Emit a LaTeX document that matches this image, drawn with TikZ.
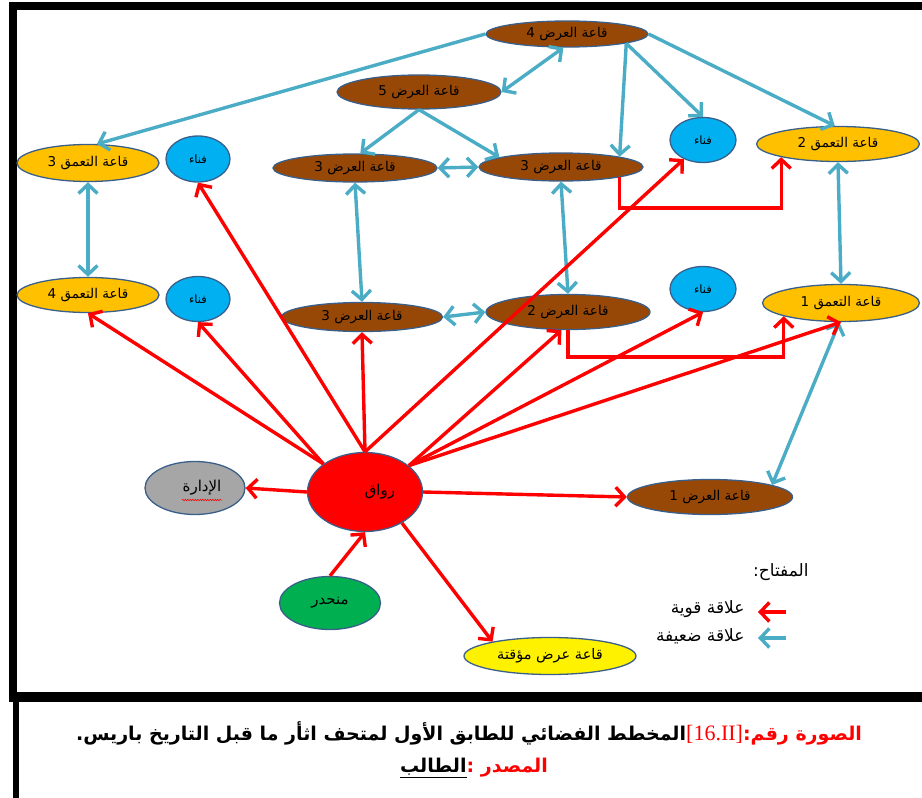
\documentclass[tikz,border=0pt]{standalone}
\usepackage{fontspec}
\usetikzlibrary{shapes.geometric,arrows.meta,decorations.pathmorphing}
\newfontfamily\arabicfont[Script=Arabic]{DejaVu Sans}
\newfontfamily\romanfont{Liberation Serif}
\TeXXeTstate=1
\newcommand{\artxt}[1]{\arabicfont\beginR #1\endR}
\definecolor{hallbrown}{RGB}{152,72,6}
\definecolor{hallgold}{RGB}{255,192,0}
\definecolor{yardcyan}{RGB}{0,176,240}
\definecolor{admgray}{RGB}{166,166,166}
\definecolor{rampgreen}{RGB}{0,176,80}
\definecolor{rimblue}{RGB}{58,95,139}
\definecolor{strongred}{RGB}{255,0,0}
\definecolor{weakblue}{RGB}{75,172,198}

\begin{document}
\begin{tikzpicture}
        [x=1pt,y=-1pt,
         room/.style={ellipse,draw=rimblue,line width=1.3pt,inner sep=0pt,font=\fontsize{13.5}{15}\selectfont},
         showroom/.style={room,fill=hallbrown,minimum width=162pt},
         deeproom/.style={room,fill=hallgold},
         yard/.style={room,fill=yardcyan,minimum width=64pt,minimum height=45pt,font=\fontsize{11.5}{13}\selectfont},
         strong/.style={draw=strongred,line width=3.4pt,-{Straight Barb[length=9pt,width=19pt]}},
         weak/.style={draw=weakblue,line width=3.4pt,-{Straight Barb[length=9pt,width=19pt]}},
         weakboth/.style={weak,{Straight Barb[length=9pt,width=19pt]}-{Straight Barb[length=9pt,width=19pt]}}]

        \useasboundingbox (0,0) rectangle (922,798);

        % frame
        \fill[black] (9,2) rectangle (922,10);
        \fill[black] (9,2) rectangle (17,702);
        \fill[black] (9,692) rectangle (922,702);
        \fill[black] (13,702) rectangle (19,798);

        % halls
        \node[showroom,minimum height=26pt] (a4) at (567,34) {\artxt{قاعة العرض 4}};
        \node[showroom,minimum width=164pt,minimum height=34pt] (a5) at (419,92) {\artxt{قاعة العرض 5}};
        \node[showroom,minimum width=164pt,minimum height=28pt] (a3l) at (355,168) {\artxt{قاعة العرض 3}};
        \node[showroom,minimum width=164pt,minimum height=28pt] (a3r) at (561,167) {\artxt{قاعة العرض 3}};
        \node[showroom,minimum width=161pt,minimum height=29pt] (a3b) at (362,317) {\artxt{قاعة العرض 3}};
        \node[showroom,minimum width=164pt,minimum height=35pt] (a2) at (568,312) {\artxt{قاعة العرض 2}};
        \node[showroom,minimum width=165pt,minimum height=35pt] (a1) at (710,497) {\artxt{قاعة العرض 1}};

        \node[deeproom,minimum width=142pt,minimum height=37pt] (t3) at (88,163) {\artxt{قاعة التعمق 3}};
        \node[deeproom,minimum width=142pt,minimum height=35pt] (t4) at (88,295) {\artxt{قاعة التعمق 4}};
        \node[deeproom,minimum width=163pt,minimum height=35pt] (t2) at (838,144) {\artxt{قاعة التعمق 2}};
        \node[deeproom,minimum width=157pt,minimum height=37pt] (t1) at (841,303) {\artxt{قاعة التعمق 1}};

        \node[yard,minimum height=46pt] (f1) at (198,159) {\artxt{فناء}};
        \node[yard] (f2) at (198,299) {\artxt{فناء}};
        \node[yard,minimum width=66pt] (f3) at (703,140) {\artxt{فناء}};
        \node[yard,minimum width=66pt] (f4) at (703,289) {\artxt{فناء}};

        \node[room,fill=strongred,minimum width=115pt,minimum height=79pt,font=\fontsize{15}{17}\selectfont] (rw) at (365,492) {\hspace*{30pt}\artxt{رواق}};
        \node[room,fill=admgray,minimum width=100pt,minimum height=53pt,font=\fontsize{15}{17}\selectfont] (ad) at (195,488) {\hspace*{14pt}\artxt{الإدارة}};
        \node[room,fill=rampgreen,minimum width=101pt,minimum height=53pt,font=\fontsize{15}{17}\selectfont] (mn) at (330,603) {\artxt{منحدر}};
        \node[room,fill=yellow,minimum width=172pt,minimum height=37pt,font=\fontsize{14.5}{16}\selectfont] (tmp) at (550,656) {\artxt{قاعة عرض مؤقتة}};
        \draw[strongred,line width=0.5pt,decorate,decoration={snake,amplitude=0.8pt,segment length=2.5pt}] (182,500) -- (222,500);

        % weak links
        \draw[weak] (a4.west) -- (t3.65);
        \draw[weakboth] (a4.255) -- (a5.east);
        \draw[weak] (a4.-9) -- (a3r.10);
        \draw[weak] (a4.-9) -- (f3.north);
        \draw[weak] (a4.east) -- (t2.100);
        \draw[weak] (a5.south) -- (a3l.70);
        \draw[weak] (a5.south) -- (a3r.171);
        \draw[weakboth] (a3l.east) -- (a3r.west);
        \draw[weakboth] (t3.south) -- (t4.north);
        \draw[weakboth] (a3l.south) -- (a3b.north);
        \draw[weakboth] (a3r.south) -- (a2.north);
        \draw[weakboth] (a3b.east) -- (a2.west);
        \draw[weakboth] (t2.south) -- (t1.north);
        \draw[weakboth] (t1.265) -- (a1.11);

        % strong links
        \draw[strong] (rw.146) -- (t4.south);
        \draw[strong] (rw.146) -- (f2.south);
        \draw[strong] (rw.north) -- (f1.south);
        \draw[strong] (rw.north) -- (a3b.south);
        \draw[strong] (rw.north) -- (f3.225);
        \draw[strong] (rw.31) -- (a2.250);
        \draw[strong] (rw.31) -- (f4.south);
        \draw[strong] (rw.31) -- (t1.south);
        \draw[strong] (rw.west) -- (ad.east);
        \draw[strong] (rw.east) -- (a1.west);
        \draw[strong] (rw.-40) -- (tmp.166);
        \draw[strong] (mn.north) -- (rw.south);
        \coordinate (e1) at (700,208);
        \coordinate (e2) at (700,357);
        \draw[strong] (a3r.-10) |- (e1) -| (t2.193);
        \draw[strong] (a2.south) |- (e2) -| (t1.193);

        % key
        \node[anchor=east,font=\fontsize{17}{19}\selectfont] (key) at (812,572) {\artxt{المفتاح:}};
        \coordinate (k1a) at (786,612);
        \coordinate (k1b) at (758,612);
        \coordinate (k2a) at (786,638);
        \coordinate (k2b) at (758,638);
        \draw[strong] (k1a) -- (k1b);
        \draw[weak] (k2a) -- (k2b);
        \node[anchor=east,font=\fontsize{17}{19}\selectfont] (kstrong) at (748,609) {\artxt{علاقة قوية}};
        \node[anchor=east,font=\fontsize{17}{19}\selectfont] (kweak) at (748,636) {\artxt{علاقة ضعيفة}};

        % caption
        \node[font=\bfseries\fontsize{19}{21}\selectfont] (cap1) at (469,733)
          {\artxt{المخطط الفضائي للطابق الأول لمتحف اثأر ما قبل التاريخ باريس.}\textcolor{strongred}{\romanfont\mdseries\fontsize{22}{24}\selectfont[16.II]}\textcolor{strongred}{\artxt{الصورة رقم:}}};
        \node[font=\bfseries\fontsize{19}{21}\selectfont] (cap2) at (474,768)
          {\underline{\artxt{الطالب}}\textcolor{strongred}{\artxt{المصدر :}}};

      \end{tikzpicture}
\end{document}
